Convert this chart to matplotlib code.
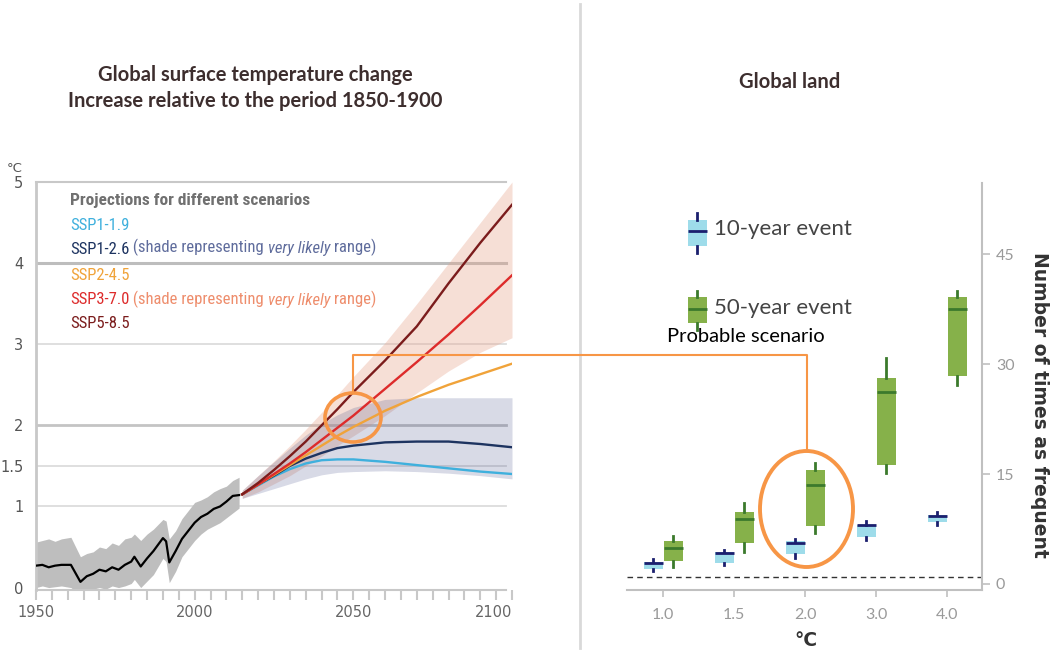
import numpy as np
import matplotlib.pyplot as plt
from matplotlib.patches import Ellipse
from matplotlib.lines import Line2D
from matplotlib import font_manager

# ---- left panel data (deg C relative to 1850-1900) ----
hist_years = [1950, 1952, 1954, 1956, 1958, 1961, 1964, 1966, 1968, 1970, 1972, 1974, 1976,
              1978, 1980, 1981, 1983, 1985, 1987, 1990, 1991, 1992, 1994, 1996, 1998, 2000,
              2002, 2004, 2006, 2008, 2010, 2012, 2014]
hist_mean = [0.27, 0.28, 0.25, 0.27, 0.28, 0.28, 0.07, 0.14, 0.17, 0.22, 0.20, 0.25, 0.22,
             0.28, 0.32, 0.38, 0.26, 0.36, 0.45, 0.61, 0.57, 0.31, 0.45, 0.60, 0.70, 0.80,
             0.87, 0.91, 0.97, 1.00, 1.06, 1.13, 1.14]
hist_high = [0.56, 0.58, 0.60, 0.57, 0.60, 0.62, 0.38, 0.42, 0.44, 0.50, 0.48, 0.55, 0.52,
             0.60, 0.62, 0.66, 0.58, 0.66, 0.72, 0.84, 0.82, 0.60, 0.70, 0.85, 0.95, 1.05,
             1.08, 1.12, 1.18, 1.22, 1.25, 1.32, 1.36]
hist_low = [0.00, 0.02, 0.00, 0.01, 0.02, 0.00, -0.10, -0.05, -0.02, 0.00, -0.02, 0.02, 0.00,
            0.02, 0.05, 0.10, 0.00, 0.08, 0.16, 0.36, 0.32, 0.06, 0.20, 0.38, 0.48, 0.58,
            0.66, 0.72, 0.76, 0.80, 0.86, 0.92, 0.98]

proj_years = [2015, 2020, 2025, 2030, 2035, 2040, 2045, 2050, 2060, 2070, 2080, 2090, 2100]
ssp119 = [1.15, 1.26, 1.37, 1.46, 1.53, 1.57, 1.58, 1.58, 1.55, 1.51, 1.47, 1.43, 1.40]
ssp126 = [1.15, 1.27, 1.38, 1.50, 1.59, 1.66, 1.72, 1.75, 1.79, 1.80, 1.80, 1.77, 1.73]
ssp245 = [1.15, 1.27, 1.39, 1.51, 1.63, 1.75, 1.87, 1.98, 2.18, 2.35, 2.50, 2.63, 2.76]
ssp370 = [1.15, 1.27, 1.40, 1.53, 1.67, 1.82, 1.97, 2.12, 2.45, 2.78, 3.12, 3.48, 3.85]
ssp585 = [1.15, 1.29, 1.45, 1.62, 1.80, 2.00, 2.20, 2.41, 2.80, 3.22, 3.75, 4.25, 4.72]
ssp126_low = [1.10, 1.16, 1.22, 1.28, 1.34, 1.39, 1.42, 1.43, 1.44, 1.43, 1.41, 1.38, 1.34]
ssp126_high = [1.20, 1.38, 1.55, 1.72, 1.88, 2.02, 2.13, 2.22, 2.32, 2.34, 2.34, 2.34, 2.34]
ssp370_low = [1.10, 1.18, 1.28, 1.38, 1.50, 1.62, 1.75, 1.87, 2.12, 2.40, 2.67, 2.90, 3.08]
ssp370_high = [1.20, 1.38, 1.56, 1.75, 1.95, 2.16, 2.38, 2.60, 3.02, 3.50, 4.00, 4.50, 5.00]

# ---- right panel data (number of times as frequent) ----
warming = ['1.0', '1.5', '2.0', '3.0', '4.0']
ten_lo = [1.8, 2.55, 3.6, 6.0, 8.1]
ten_q1 = [2.1, 2.9, 4.05, 6.4, 8.5]
ten_med = [2.9, 4.2, 5.6, 8.0, 9.3]
ten_q3 = [3.0, 4.3, 5.8, 8.1, 9.4]
ten_hi = [3.4, 4.7, 6.2, 8.6, 9.8]
fifty_lo = [2.3, 4.3, 7.0, 15.1, 27.1]
fifty_q1 = [3.2, 5.6, 7.9, 16.2, 28.4]
fifty_med = [4.9, 8.9, 13.5, 26.2, 37.5]
fifty_q3 = [5.9, 9.8, 15.5, 28.1, 39.1]
fifty_hi = [6.6, 11.0, 16.5, 30.8, 40.0]

# colours
c_119 = '#3fb0dd'
c_126 = '#1d3360'
c_245 = '#f0a33a'
c_370 = '#dd2b2b'
c_585 = '#7b1c1c'
orange = '#f79646'
title_col = '#3d2e2e'

# narrow font for the scenario key if one is around
installed = {f.name for f in font_manager.fontManager.ttflist}
leg_font = 'Roboto'
leg_size = 10
for cand in ['Liberation Sans Narrow', 'Roboto Condensed', 'Open Sans Condensed']:
    if cand in installed:
        leg_font = cand
        leg_size = 12
        break

W, H = 1060, 661
fig = plt.figure(figsize=(W / 100, H / 100), dpi=100)
fig.patch.set_facecolor('white')


def fx(px):
    return px / W


def fy(py):
    return 1 - py / H


# ================= left panel =================
ax1 = fig.add_axes([fx(36), fy(590), fx(512 - 36), (590 - 182) / H])
ax1.set_xlim(1950, 2100)
ax1.set_ylim(-0.03, 4.98)

for yv, col, lw in [(1, '#dcdcdc', 1.3), (1.5, '#dcdcdc', 1.3), (2, '#c4c4c4', 2.0),
                    (3, '#dcdcdc', 1.3), (4, '#bdbdbd', 2.2)]:
    ax1.axhline(yv, xmax=(2098 - 1950) / 150, color=col, lw=lw, zorder=0)

ax1.fill_between(hist_years, hist_low, hist_high, color='#bebebe', lw=0, zorder=1)
ax1.plot(hist_years, hist_mean, color='black', lw=1.6, zorder=3)

ax1.fill_between(proj_years, ssp370_low, ssp370_high, color='#e8a48c', alpha=0.35, lw=0, zorder=1)
ax1.fill_between(proj_years, ssp126_low, ssp126_high, color='#3c4685', alpha=0.2, lw=0, zorder=1)
for ys, col in [(ssp119, c_119), (ssp126, c_126), (ssp245, c_245), (ssp370, c_370), (ssp585, c_585)]:
    ax1.plot(proj_years, ys, color=col, lw=1.7, zorder=3)

ax1.spines['right'].set_visible(False)
for s in ['left', 'top', 'bottom']:
    ax1.spines[s].set_color('#c8c8c8')
ax1.spines['left'].set_linewidth(2)
ax1.spines['top'].set_linewidth(1.5)
ax1.spines['bottom'].set_linewidth(1.5)
ax1.spines['top'].set_bounds(1950, 2098)
ax1.spines['bottom'].set_bounds(1950, 2098)

ax1.set_yticks([0, 1, 1.5, 2, 3, 4, 5])
ax1.set_yticklabels(['0', '1', '1.5', '2', '3', '4', '5'])
ax1.tick_params(axis='y', length=0, pad=9, labelsize=10.5, labelcolor='#555555')
ax1.set_xticks([1950, 2000, 2050, 2100])
ax1.set_xticks(np.arange(1955, 2100, 5), minor=True)
ax1.tick_params(axis='x', which='both', length=7, width=1.5, color='#c8c8c8',
                labelsize=10.5, labelcolor='#666666', pad=4)
ax1.get_xticklabels()[-1].set_ha('right')
fig.text(fx(15), fy(168), '°C', fontsize=9.5, color='#555555', ha='center', va='center')

# scenario key
lx = (70 - 36) / 476


def ay(py):
    return (590 - py) / 408


ax1.text(lx, ay(200), 'Projections for different scenarios', transform=ax1.transAxes,
         family=leg_font, fontsize=leg_size + 0.5, fontweight='bold', color='#707070',
         va='center')

key_rows = [
    (225, [('SSP1-1.9', c_119, 'normal')]),
    (249, [('SSP1-2.6', c_126, 'normal'), (' (shade representing ', '#5f6c9c', 'normal'),
           ('very likely', '#5f6c9c', 'italic'), (' range)', '#5f6c9c', 'normal')]),
    (276, [('SSP2-4.5', c_245, 'normal')]),
    (300, [('SSP3-7.0', c_370, 'normal'), (' (shade representing ', '#ee8d6c', 'normal'),
           ('very likely', '#ee8d6c', 'italic'), (' range)', '#ee8d6c', 'normal')]),
    (324, [('SSP5-8.5', c_585, 'normal')]),
]
for py, parts in key_rows:
    prev = None
    for txt, col, style in parts:
        if prev is None:
            prev = ax1.text(lx, ay(py), txt, transform=ax1.transAxes, family=leg_font,
                            fontsize=leg_size, color=col, style=style, va='center')
        else:
            prev = ax1.annotate(txt, xy=(1, 0), xycoords=prev, va='bottom', ha='left',
                                family=leg_font, fontsize=leg_size, color=col, style=style)

# ================= right panel =================
ax2 = fig.add_axes([fx(627), fy(590), fx(982 - 627), (590 - 183) / H])
ax2.set_xlim(-0.51, 4.49)
ax2.set_ylim(-0.82, 54.7)
pos = np.arange(len(warming))

ten_stats = [dict(med=m, q1=a, q3=b, whislo=lo, whishi=hi, fliers=[])
             for m, a, b, lo, hi in zip(ten_med, ten_q1, ten_q3, ten_lo, ten_hi)]
fifty_stats = [dict(med=m, q1=a, q3=b, whislo=lo, whishi=hi, fliers=[])
               for m, a, b, lo, hi in zip(fifty_med, fifty_q1, fifty_q3, fifty_lo, fifty_hi)]

ten_style = dict(patch_artist=True, showcaps=False, showfliers=False, widths=0.27,
                 boxprops=dict(facecolor='#9edcea', edgecolor='none'),
                 medianprops=dict(color='#1b1f6e', lw=2),
                 whiskerprops=dict(color='#1b1f6e', lw=2))
fifty_style = dict(patch_artist=True, showcaps=False, showfliers=False, widths=0.27,
                   boxprops=dict(facecolor='#86b14a', edgecolor='none'),
                   medianprops=dict(color='#3b7a2c', lw=2),
                   whiskerprops=dict(color='#3b7a2c', lw=2))

ax2.bxp(ten_stats, positions=pos - 0.14, manage_ticks=False, **ten_style)
ax2.bxp(fifty_stats, positions=pos + 0.14, manage_ticks=False, **fifty_style)

# key boxes
ax2.bxp([dict(med=48.2, q1=46.1, q3=49.7, whislo=45.2, whishi=50.6, fliers=[])],
        positions=[0.48], manage_ticks=False, **ten_style)
ax2.bxp([dict(med=37.5, q1=35.6, q3=39.1, whislo=34.7, whishi=40.0, fliers=[])],
        positions=[0.48], manage_ticks=False, **fifty_style)
ax2.text(0.72, 48.4, '10-year event', fontsize=16, color='#444444', family='Lato', va='center')
ax2.text(0.72, 37.7, '50-year event', fontsize=16, color='#444444', family='Lato', va='center')

ax2.axhline(1, color='#333333', lw=1, dashes=(4, 3))

ax2.spines['left'].set_visible(False)
ax2.spines['top'].set_visible(False)
for s in ['right', 'bottom']:
    ax2.spines[s].set_color('#c0c0c0')
    ax2.spines[s].set_linewidth(1.5)
ax2.yaxis.tick_right()
ax2.set_yticks([0, 15, 30, 45])
ax2.tick_params(axis='y', length=6, width=1.2, color='#c0c0c0', labelsize=11.5,
                labelcolor='#9a9a9a', pad=4)
ax2.set_xticks(pos)
ax2.set_xticklabels(warming, family='Lato')
ax2.tick_params(axis='x', length=5, width=1.2, color='#c0c0c0', labelsize=11.5,
                labelcolor='#9a9a9a', pad=8)
for lab in ax2.get_yticklabels():
    lab.set_family('Lato')

fig.text(fx(806), fy(640), '°C', fontsize=13.5, fontweight='bold', color='#333333',
         ha='center', va='center')
fig.text(fx(1040), fy(405), 'Number of times as frequent', fontsize=13.5, fontweight='bold',
         color='#333333', rotation=270, ha='center', va='center')

# ================= titles and annotations =================
fig.text(fx(255), fy(75), 'Global surface temperature change', fontsize=14.5,
         fontweight='bold', color=title_col, ha='center', va='center', family='Lato')
fig.text(fx(255), fy(101), 'Increase relative to the period 1850-1900', fontsize=14.5,
         fontweight='bold', color=title_col, ha='center', va='center', family='Lato')
fig.text(fx(790), fy(82), 'Global land', fontsize=14.5, fontweight='bold', color=title_col,
         ha='center', va='center', family='Lato')
fig.text(fx(746), fy(337), 'Probable scenario', fontsize=14.5, color='black',
         ha='center', va='center', family='Lato')

fig.add_artist(Line2D([fx(580), fx(580)], [fy(4), fy(648)], color='#d9d9d9', lw=2))
fig.add_artist(Line2D([fx(353), fx(353), fx(807), fx(807)],
                      [fy(393), fy(355), fy(355), fy(451)], color=orange, lw=1.5))
fig.add_artist(Ellipse((fx(353), fy(417.5)), fx(56), 49 / H, fill=False,
                       edgecolor=orange, lw=2.6))
fig.add_artist(Ellipse((fx(806.5), fy(509)), fx(93), 116 / H, fill=False,
                       edgecolor=orange, lw=2.8))

fig.savefig('out.png', dpi=100, facecolor='white')
